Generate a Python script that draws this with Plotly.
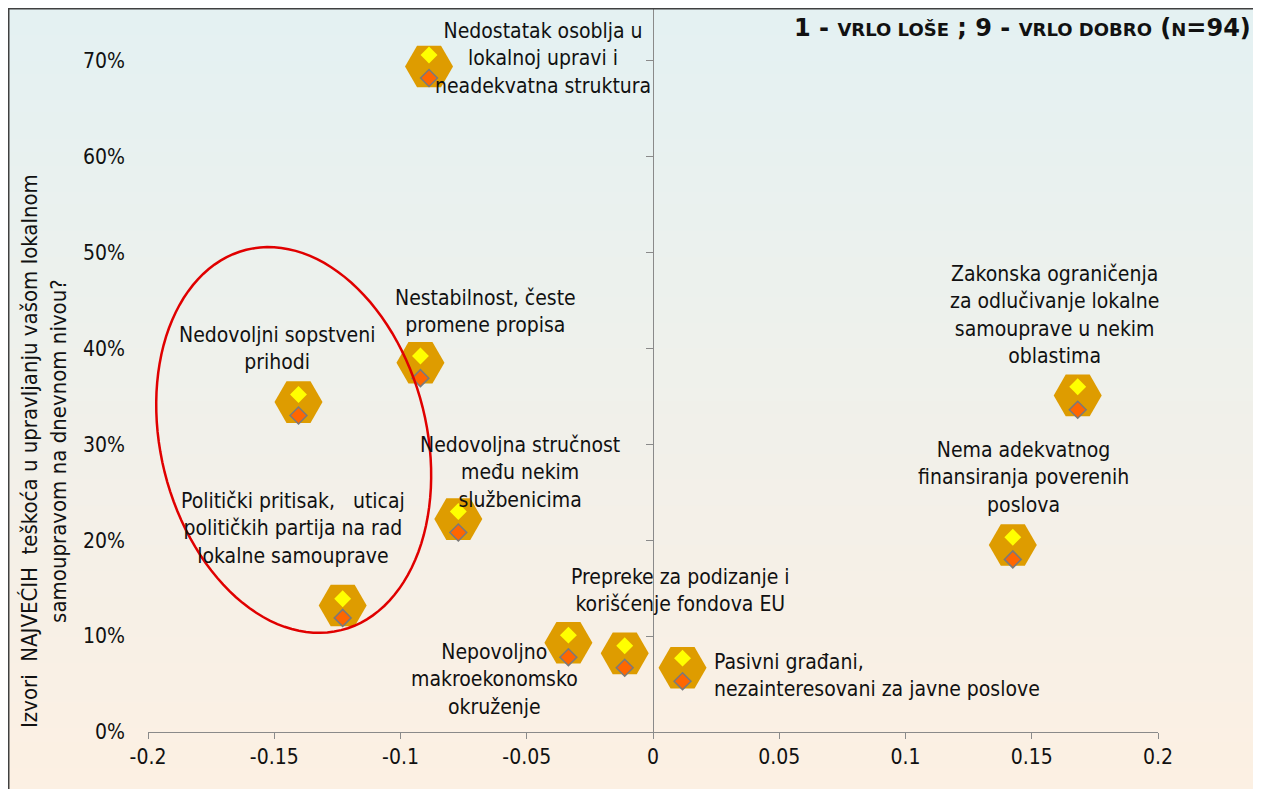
import numpy as np
import plotly.graph_objects as go

# ---------------- data ----------------
labels = [
    "Nedostatak osoblja u<br>lokalnoj upravi i<br>neadekvatna struktura",
    "Nestabilnost, česte<br>promene propisa",
    "Nedovoljni sopstveni<br>prihodi",
    "Politički pritisak,\u00a0\u00a0 uticaj<br>političkih partija na rad<br>lokalne samouprave",
    "Zakonska ograničenja<br>za odlučivanje lokalne<br>samouprave u nekim<br>oblastima",
    "Prepreke za podizanje i<br>korišćenje fondova EU",
    "Pasivni građani,<br>nezainteresovani za javne poslove",
    "Nedovoljna stručnost<br>među nekim<br>službenicima",
    "Nepovoljno<br>makroekonomsko<br>okruženje",
    "Nema adekvatnog<br>finansiranja poverenih<br>poslova",
]
x_vals = [-0.0887, -0.0921, -0.1404, -0.1229, 0.1682, -0.0112, 0.0117, -0.0771, -0.0335, 0.1425]
hex_y = [0.694, 0.385, 0.344, 0.132, 0.351, 0.082, 0.067, 0.222, 0.093, 0.195]
yellow_y = [0.706, 0.392, 0.352, 0.139, 0.360, 0.090, 0.077, 0.230, 0.101, 0.203]
orange_y = [0.682, 0.369, 0.330, 0.119, 0.336, 0.067, 0.053, 0.208, 0.078, 0.180]

x_tickvals = [-0.2, -0.15, -0.1, -0.05, 0, 0.05, 0.1, 0.15, 0.2]
x_ticktext = ["-0.2", "-0.15", "-0.1", "-0.05", "0", "0.05", "0.1", "0.15", "0.2"]
y_tickvals = [0, 0.1, 0.2, 0.3, 0.4, 0.5, 0.6, 0.7]

title_text = ("<b>1 - <span style='font-size:18px'>VRLO LOŠE</span> ; 9 - "
              "<span style='font-size:18px'>VRLO DOBRO</span> (<span style='font-size:18px'>N</span>=94)</b>")
y_title = "Izvori\u00a0 NAJVEĆIH\u00a0 teškoća u upravljanju vašom lokalnom<br>samoupravom na dnevnom nivou?"

# ---------------- style ----------------
W, H = 1253, 781
ML, MR, MT, MB = 140, 103, 0, 57
XR = [-0.2, 0.2]
pw = W - ML - MR
ph = H - MT - MB
YR = [0, ph / 959.0]
FONT = "Noto Sans Condensed, DejaVu Sans Condensed, sans-serif"
LBL_SIZE = 21
TICK_SIZE = 21
HEX_COL = "#DE9C00"
GRAY = "#8a8a8a"

# label offsets (px: dx right, dy down) and anchors
label_style = [
    (114, -8, "center"),
    (65, -51, "center"),
    (-21, -54, "center"),
    (-50, -77, "center"),
    (-23, -80, "center"),
    (56, -63, "center"),
    (29, 8, "left"),
    (62, -47, "center"),
    (-74, 37, "center"),
    (11, -68, "center"),
]

sx = pw / (XR[1] - XR[0])
sy = ph / (YR[1] - YR[0])


def px_x(v):  # figure pixel -> paper x
    return (v - ML) / pw


def px_y(v):  # figure pixel -> paper y
    return (MT + ph - v) / ph


fig = go.Figure()

fig.add_trace(go.Scatter(
    x=x_vals, y=hex_y, mode="markers",
    marker=dict(symbol="hexagon2", size=48, color=HEX_COL, line=dict(width=0)),
    hoverinfo="skip", showlegend=False))
fig.add_trace(go.Scatter(
    x=x_vals, y=orange_y, mode="markers", yaxis="y2",
    marker=dict(symbol="diamond", size=13, color="#FF6600", line=dict(width=1.5, color="#7a7a7a")),
    hoverinfo="skip", showlegend=False))
fig.add_trace(go.Scatter(
    x=x_vals, y=yellow_y, mode="markers", yaxis="y2",
    marker=dict(symbol="diamond", size=13, color="#FFFF00", line=dict(width=0)),
    hoverinfo="skip", showlegend=False))

# labels
for xv, yv, txt, (dx, dy, anc) in zip(x_vals, hex_y, labels, label_style):
    fig.add_annotation(x=xv, y=yv, xref="x", yref="y", text=txt, showarrow=False,
                       xanchor=anc, yanchor="middle", align=anc,
                       xshift=dx, yshift=-dy,
                       font=dict(family=FONT, size=LBL_SIZE, color="#111111"))

# title
fig.add_annotation(x=px_x(1245), y=px_y(20), xref="paper", yref="paper",
                   text=title_text, showarrow=False, xanchor="right", yanchor="middle",
                   font=dict(family="DejaVu Sans, sans-serif", size=24, color="#111111"))
# y title
fig.add_annotation(x=px_x(36), y=px_y(443), xref="paper", yref="paper",
                   text=y_title, showarrow=False, textangle=-90, xanchor="center", yanchor="middle",
                   align="center", font=dict(family=FONT, size=22, color="#111111"))

shapes = []
# gradient background
top_c = np.array([228, 242, 243])
bot_c = np.array([253, 240, 227])
fx0, fx1 = px_x(0.75), px_x(1249)
fy_top, fy_bot = px_y(0.75), px_y(H + 5)
N = 60
edges = np.linspace(px_y(0), px_y(H + 5), N + 1)
for i in range(N):
    c = top_c + (bot_c - top_c) * (i + 0.5) / N
    shapes.append(dict(type="rect", xref="paper", yref="paper", layer="below",
                       x0=fx0, x1=fx1, y0=edges[i + 1] - 0.002, y1=edges[i],
                       fillcolor="rgb(%d,%d,%d)" % tuple(c.astype(int)), line=dict(width=0)))
# frame
shapes.append(dict(type="rect", xref="paper", yref="paper", layer="above",
                   x0=fx0, x1=fx1, y0=fy_bot, y1=fy_top,
                   fillcolor="rgba(0,0,0,0)", line=dict(width=1.5, color="#404040")))

# red ellipse (screen-pixel geometry converted to data units)
cx, cy = -0.1423, 0.3045
a_px, b_px, th = 196, 133, np.deg2rad(14)
t = np.linspace(0, 2 * np.pi, 121)
dxp = -a_px * np.cos(t) * np.sin(th) + b_px * np.sin(t) * np.cos(th)
dyp = -a_px * np.cos(t) * np.cos(th) - b_px * np.sin(t) * np.sin(th)
ex = cx + dxp / sx
ey = cy - dyp / sy
path = "M " + " L ".join("%.5f,%.5f" % (a, b) for a, b in zip(ex, ey)) + " Z"
shapes.append(dict(type="path", xref="x", yref="y", path=path, layer="above",
                   line=dict(color="#E00000", width=2.5), fillcolor="rgba(0,0,0,0)"))

fig.update_layout(
    width=W, height=H,
    margin=dict(l=ML, r=MR, t=MT, b=MB, pad=0),
    paper_bgcolor="white", plot_bgcolor="rgba(0,0,0,0)",
    showlegend=False,
    shapes=shapes,
    xaxis=dict(range=XR, tickvals=x_tickvals, ticktext=x_ticktext, showgrid=False, zeroline=False,
               showline=True, linecolor=GRAY, linewidth=1.3, ticks="outside", ticklen=6,
               tickcolor=GRAY, tickwidth=1.3,
               tickfont=dict(family=FONT, size=TICK_SIZE, color="#111111")),
    yaxis=dict(range=YR, tickvals=y_tickvals, tickformat=".0%", showgrid=False, zeroline=False,
               showline=False, ticks="", ticklabelstandoff=22,
               tickfont=dict(family=FONT, size=TICK_SIZE, color="#111111")),
    yaxis2=dict(range=YR, overlaying="y", anchor="free", position=0.5, side="left",
                tickvals=y_tickvals, showticklabels=False, showgrid=False, zeroline=False,
                showline=True, linecolor=GRAY, linewidth=1.3, ticks="outside", ticklen=7,
                tickcolor=GRAY, tickwidth=1.3),
)

fig.write_html("out.html")
